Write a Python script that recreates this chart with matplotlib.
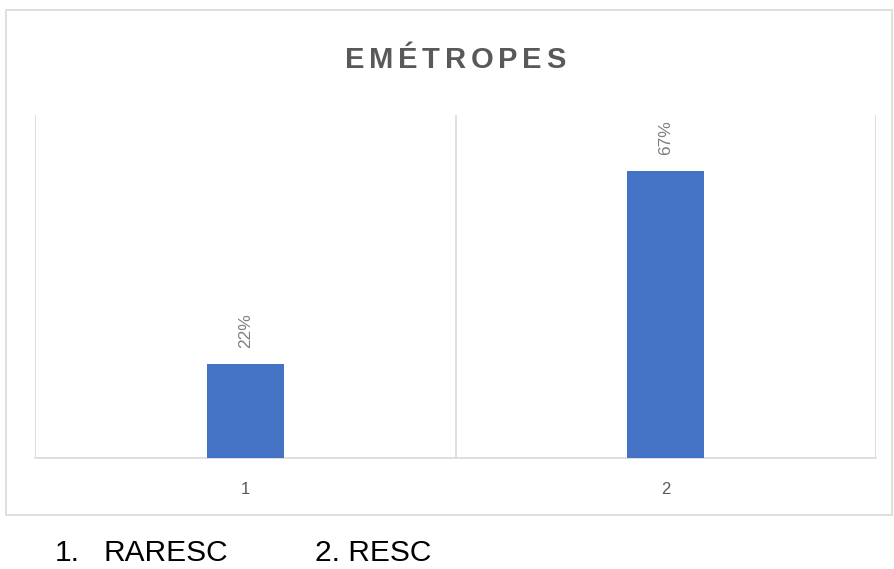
import matplotlib
matplotlib.use('Agg')
import matplotlib.pyplot as plt
from matplotlib.patches import Rectangle

''' chart data '''
categories = ['1', '2']
values = [0.22, 0.67]
value_labels = ['22%', '67%']
title = 'EMÉTROPES'
legend_items = [('1.', 'RARESC'), ('2.', 'RESC')]

W, H = 894, 569
fig = plt.figure(figsize=(W / 100, H / 100), dpi=100)
plt.rcParams['font.family'] = ['Liberation Sans', 'DejaVu Sans']

# outer chart frame
fig.patches.append(Rectangle((5.5 / W, 1 - 515 / H), (892 - 5.5) / W, (515 - 9.5) / H,
                             transform=fig.transFigure, fill=False,
                             edgecolor='#d9d9d9', linewidth=1.2))

ax = fig.add_axes([35 / W, (H - 458) / H, 841 / W, 343 / H])
x = list(range(len(categories)))
ax.bar(x, values, width=0.183, color='#4472C4', zorder=3)
ax.set_xlim(-0.5, len(categories) - 0.5)
ax.set_ylim(0, 0.8)

for sp in ['top', 'left', 'right']:
    ax.spines[sp].set_visible(False)
ax.spines['bottom'].set_color('#d9d9d9')
ax.spines['bottom'].set_linewidth(1.2)
for xv in [i - 0.5 for i in range(len(categories) + 1)]:
    ax.axvline(xv, color='#d9d9d9', linewidth=1.2, zorder=1)

ax.set_yticks([])
ax.set_xticks(x)
ax.set_xticklabels(categories, fontsize=12, color='#595959')
ax.tick_params(axis='x', length=0, pad=17)

for xi, v, lab in zip(x, values, value_labels):
    ax.annotate(lab, (xi, v), xytext=(0, 11.5), textcoords='offset points',
                rotation=90, ha='center', va='bottom', fontsize=12.5, color='#7f7f7f')

# letter-spaced title
renderer = fig.canvas.get_renderer()
fsize = 21
spacing = 4.6
widths = []
for ch in title:
    t = fig.text(0, 0, ch, fontsize=fsize, fontweight='bold')
    widths.append(t.get_window_extent(renderer).width)
    t.remove()
total = sum(widths) + spacing * (len(title) - 1)
xpos = 455 - total / 2
for ch, w in zip(title, widths):
    fig.text(xpos / W, 1 - 68 / H, ch, fontsize=fsize, fontweight='bold',
             color='#595959', ha='left', va='baseline')
    xpos += w + spacing

# numbered list under the chart
base_y = 1 - 561 / H
fig.text(55 / W, base_y, legend_items[0][0], fontsize=21.5, color='black', va='baseline')
fig.text(103 / W, base_y, legend_items[0][1], fontsize=21.5, color='black', va='baseline')
fig.text(315 / W, base_y, legend_items[1][0] + ' ' + legend_items[1][1],
         fontsize=21.5, color='black', va='baseline')

fig.savefig('out.png', dpi=100)
